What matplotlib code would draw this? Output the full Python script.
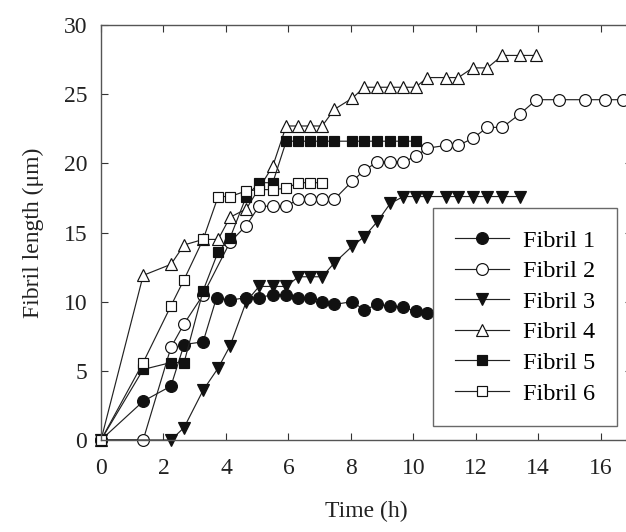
import matplotlib.pyplot as plt

plt.rcParams['font.family'] = ['Liberation Serif', 'DejaVu Serif']

# measurement times (h) and fibril lengths (um) for each fibril
t1 = [0, 1.35, 2.24, 2.66, 3.27, 3.7, 4.13, 4.65, 5.06, 5.5, 5.93, 6.32, 6.7, 7.08, 7.47,
      8.04, 8.43, 8.85, 9.26, 9.68, 10.07, 10.45]
len1 = [0, 2.8, 3.9, 6.9, 7.1, 10.3, 10.1, 10.3, 10.3, 10.5, 10.5, 10.3, 10.3, 10.0, 9.8,
        10.0, 9.4, 9.8, 9.7, 9.6, 9.3, 9.2]

t2 = [0, 1.35, 2.24, 2.66, 3.27, 4.13, 4.65, 5.06, 5.5, 5.93, 6.32, 6.7, 7.08, 7.47, 8.04,
      8.43, 8.85, 9.26, 9.68, 10.07, 10.45, 11.06, 11.44, 11.9, 12.37, 12.85, 13.43, 13.94,
      14.65, 15.5, 16.15, 16.7]
len2 = [0, 0, 6.7, 8.4, 10.5, 14.3, 15.5, 16.9, 16.9, 16.9, 17.4, 17.4, 17.4, 17.4, 18.7,
        19.5, 20.1, 20.1, 20.1, 20.5, 21.1, 21.3, 21.3, 21.8, 22.6, 22.6, 23.6, 24.6,
        24.6, 24.6, 24.6, 24.6]

t3 = [0, 2.24, 2.66, 3.27, 3.75, 4.13, 4.65, 5.06, 5.5, 5.93, 6.32, 6.7, 7.08, 7.47, 8.04,
      8.43, 8.85, 9.26, 9.68, 10.07, 10.45, 11.06, 11.44, 11.9, 12.37, 12.85, 13.43]
len3 = [0, 0, 0.9, 3.6, 5.2, 6.8, 10.0, 11.1, 11.1, 11.1, 11.8, 11.8, 11.8, 12.8, 14.0,
        14.7, 15.8, 17.1, 17.6, 17.6, 17.6, 17.6, 17.6, 17.6, 17.6, 17.6, 17.6]

t4 = [0, 1.35, 2.24, 2.66, 3.27, 3.75, 4.13, 4.65, 5.5, 5.93, 6.32, 6.7, 7.08, 7.47, 8.04,
      8.43, 8.85, 9.26, 9.68, 10.07, 10.45, 11.06, 11.44, 11.9, 12.37, 12.85, 13.43, 13.94]
len4 = [0, 11.9, 12.7, 14.1, 14.5, 14.5, 16.1, 16.7, 19.8, 22.7, 22.7, 22.7, 22.7, 23.9, 24.7,
        25.5, 25.5, 25.5, 25.5, 25.5, 26.2, 26.2, 26.2, 26.9, 26.9, 27.8, 27.8, 27.8]

t5 = [0, 1.35, 2.24, 2.66, 3.27, 3.75, 4.13, 4.65, 5.06, 5.5, 5.93, 6.32, 6.7, 7.08, 7.47,
      8.04, 8.43, 8.85, 9.26, 9.68, 10.07]
len5 = [0, 5.1, 5.6, 5.6, 10.8, 13.6, 14.6, 17.6, 18.6, 18.6, 21.6, 21.6, 21.6, 21.6, 21.6,
        21.6, 21.6, 21.6, 21.6, 21.6, 21.6]

t6 = [0, 1.35, 2.24, 2.66, 3.27, 3.75, 4.13, 4.65, 5.06, 5.5, 5.93, 6.32, 6.7, 7.08]
len6 = [0, 5.6, 9.7, 11.6, 14.5, 17.6, 17.6, 18.0, 18.1, 18.1, 18.2, 18.6, 18.6, 18.6]

labels = ['Fibril 1', 'Fibril 2', 'Fibril 3', 'Fibril 4', 'Fibril 5', 'Fibril 6']
markers = ['o', 'o', 'v', '^', 's', 's']
fills = ['#111111', 'white', '#111111', 'white', '#111111', 'white']
sizes = [8.5, 8.5, 8.5, 8.5, 7.5, 7.5]

fig = plt.figure(figsize=(6.26, 5.32), dpi=100)
ax = fig.add_axes([101 / 626, 92 / 532, 531 / 626, 415 / 532])

series = [(t1, len1), (t2, len2), (t3, len3), (t4, len4), (t5, len5), (t6, len6)]
for (t, v), lab, m, fc, ms in zip(series, labels, markers, fills, sizes):
    ax.plot(t, v, color='#222222', lw=0.85, marker=m, ms=ms, mfc=fc, mec='#111111',
            mew=0.85, label=lab, clip_on=False)

ax.set_xlim(0, 17)
ax.set_ylim(0, 30)
ax.set_xticks(range(0, 17, 2))
ax.set_yticks(range(0, 31, 5))
ax.tick_params(direction='in', length=5, width=0.8, top=True, right=True,
               labelsize=17, colors='#333333', labelcolor='#222222')
ax.tick_params(axis='x', pad=13)
ax.tick_params(axis='y', pad=10)
for sp in ax.spines.values():
    sp.set_color('#555555')
    sp.set_linewidth(1.0)

ax.set_xlabel('Time (h)', fontsize=17, labelpad=16, color='#222222')
ax.set_ylabel('Fibril length (μm)', fontsize=17, labelpad=14, color='#222222')

leg = ax.legend(loc='upper left', bbox_to_anchor=(0.626, 0.559), fontsize=17.5,
                frameon=True, fancybox=False, borderpad=0.9, labelspacing=0.35,
                handlelength=2.2, handletextpad=0.6, borderaxespad=0)
leg.get_frame().set_edgecolor('#444444')
leg.get_frame().set_linewidth(1.0)
leg.set_zorder(10)

fig.savefig('out.png', dpi=100, facecolor='white')
